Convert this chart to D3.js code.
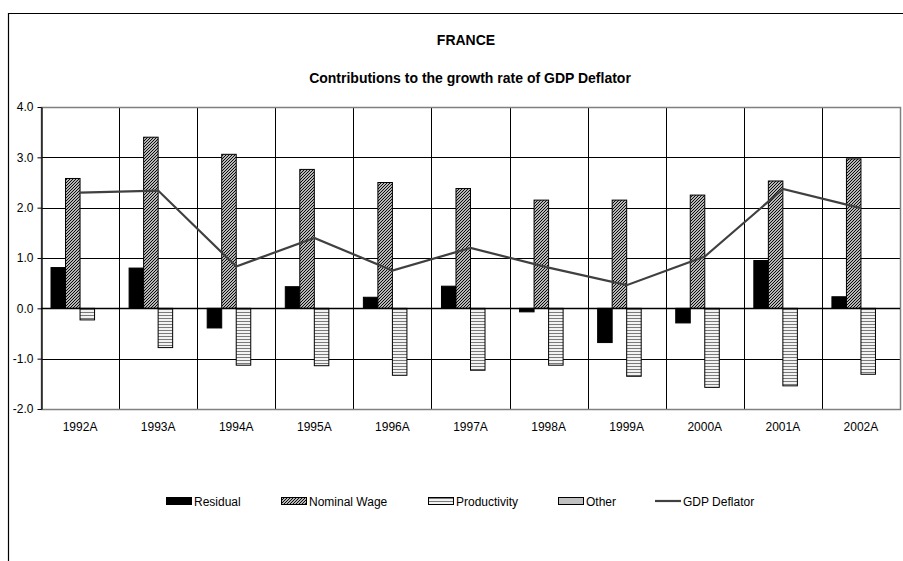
<!DOCTYPE html>
<html>
<head>
<meta charset="utf-8">
<script src="https://cdn.jsdelivr.net/npm/d3@7"></script>
<style>
  body { margin: 0; background: #fff; }
  svg text { font-family: "Liberation Sans", Arial, sans-serif; fill: #000; }
</style>
</head>
<body>
<svg id="chart" width="903" height="561"></svg>
<script>
// data
const years = ["1992A", "1993A", "1994A", "1995A", "1996A", "1997A", "1998A", "1999A", "2000A", "2001A", "2002A"];
const residual = [0.81, 0.80, -0.39, 0.43, 0.22, 0.44, -0.07, -0.68, -0.29, 0.95, 0.23];
const nominalWage = [2.58, 3.40, 3.06, 2.76, 2.50, 2.38, 2.15, 2.15, 2.25, 2.53, 2.97];
const productivity = [-0.23, -0.78, -1.13, -1.14, -1.33, -1.23, -1.13, -1.35, -1.57, -1.54, -1.31];
const other = [0, 0, 0, 0, 0, 0, 0, 0, 0, 0, 0];
const gdpDeflator = [2.30, 2.34, 0.83, 1.40, 0.75, 1.20, 0.81, 0.46, 1.03, 2.37, 1.99];
const yTicks = [-2, -1, 0, 1, 2, 3, 4];

const series = [
    { name: "Residual", values: residual, fill: "#000" },
    { name: "Nominal Wage", values: nominalWage, fill: "url(#hatch)" },
    { name: "Productivity", values: productivity, fill: "url(#stripes)" },
    { name: "Other", values: other, fill: "#c0c0c0" }
];

const svg = d3.select("#chart");
const plotL = 41, plotR = 900, plotT = 107, plotB = 409;

// patterns
const defs = svg.append("defs");
const hatch = defs.append("pattern").attr("id", "hatch").attr("patternUnits", "userSpaceOnUse")
    .attr("width", 3).attr("height", 3);
hatch.append("rect").attr("width", 3).attr("height", 3).attr("fill", "#fff");
hatch.append("path").attr("d", "M -1 1 L 1 -1 M 0 3 L 3 0 M 2 4 L 4 2")
    .attr("stroke", "#000").attr("stroke-width", 1.1);

const stripes = defs.append("pattern").attr("id", "stripes").attr("patternUnits", "userSpaceOnUse")
    .attr("width", 4).attr("height", 3);
stripes.append("rect").attr("width", 4).attr("height", 3).attr("fill", "#f2f2f2");
stripes.append("line").attr("x1", 0).attr("x2", 4).attr("y1", 0.5).attr("y2", 0.5)
    .attr("stroke", "#7a7a7a").attr("stroke-width", 1);

// outer frame (right and bottom are cut off)
svg.append("path").attr("d", "M 903 13.5 H 8.5 V 561")
    .attr("fill", "none").attr("stroke", "#000").attr("stroke-width", 1.2);

svg.append("text").attr("x", 466).attr("y", 45).attr("text-anchor", "middle")
    .style("font-size", "14px").style("font-weight", "bold").text("FRANCE");
svg.append("text").attr("x", 470).attr("y", 83).attr("text-anchor", "middle")
    .style("font-size", "14px").style("font-weight", "bold").text("Contributions to the growth rate of GDP Deflator");

const x = d3.scaleBand().domain(years).range([plotL, plotR]);
const y = d3.scaleLinear().domain([-2, 4]).range([plotB, plotT]);
const inner = d3.scaleBand().domain(series.map(d => d.name))
    .range([0, x.bandwidth()]).paddingOuter(0.69);

// grid
svg.append("g").selectAll("line").data(yTicks).enter().append("line")
    .attr("x1", plotL).attr("x2", plotR)
    .attr("y1", d => Math.round(y(d)) + 0.5).attr("y2", d => Math.round(y(d)) + 0.5)
    .attr("stroke", "#000").attr("stroke-width", 1);
svg.append("g").selectAll("line").data(years.slice(1)).enter().append("line")
    .attr("x1", d => Math.round(x(d)) + 0.5).attr("x2", d => Math.round(x(d)) + 0.5)
    .attr("y1", plotT).attr("y2", plotB)
    .attr("stroke", "#000").attr("stroke-width", 1);

// plot border
svg.append("rect").attr("x", plotL + 0.5).attr("y", Math.round(plotT) + 0.5)
    .attr("width", plotR - plotL).attr("height", Math.round(plotB) - Math.round(plotT))
    .attr("fill", "none").attr("stroke", "#808080").attr("stroke-width", 1.5);

// bars
series.forEach(s => {
    svg.append("g").selectAll("rect").data(s.values).enter().append("rect")
        .attr("x", (d, i) => x(years[i]) + inner(s.name))
        .attr("width", inner.bandwidth())
        .attr("y", d => y(Math.max(0, d)))
        .attr("height", d => Math.abs(y(d) - y(0)))
        .attr("fill", s.fill)
        .attr("stroke", d => d === 0 ? "none" : "#000")
        .attr("stroke-width", 1);
});

// axes
const yAxis = svg.append("g").attr("transform", "translate(" + (plotL + 0.5) + ",0)")
    .call(d3.axisLeft(y).tickValues(yTicks).tickFormat(d => d.toFixed(1)).tickSize(4).tickSizeOuter(0));
yAxis.select(".domain").attr("stroke", "#000").attr("stroke-width", 1.3);
yAxis.selectAll("text").style("font-size", "12px").attr("dx", "-1");

svg.append("line").attr("x1", plotL).attr("x2", plotR)
    .attr("y1", Math.round(y(0)) + 0.5).attr("y2", Math.round(y(0)) + 0.5)
    .attr("stroke", "#000").attr("stroke-width", 1.3);

svg.append("g").selectAll("text").data(years).enter().append("text")
    .attr("x", d => x(d) + x.bandwidth() / 2).attr("y", 431)
    .attr("text-anchor", "middle").style("font-size", "12px").text(d => d);

// GDP deflator line
const line = d3.line().x((d, i) => x(years[i]) + x.bandwidth() / 2).y(d => y(d));
svg.append("path").datum(gdpDeflator).attr("d", line)
    .attr("fill", "none").attr("stroke", "#404040").attr("stroke-width", 2.2);

// legend
const legendX = [166, 281, 428, 558, 655];
const legendItems = series.map(s => ({ name: s.name, fill: s.fill, type: "rect" }))
    .concat([{ name: "GDP Deflator", type: "line" }]);
const legend = svg.append("g").selectAll("g").data(legendItems).enter().append("g")
    .attr("transform", (d, i) => "translate(" + legendX[i] + ",501)");
legend.filter(d => d.type === "rect").append("rect")
    .attr("x", 0.5).attr("y", -3.5).attr("width", 25).attr("height", 7)
    .attr("fill", d => d.fill).attr("stroke", "#000");
legend.filter(d => d.type === "line").append("line")
    .attr("x1", 0).attr("x2", 26).attr("y1", 0).attr("y2", 0)
    .attr("stroke", "#404040").attr("stroke-width", 2.2);
legend.append("text").attr("x", 28).attr("y", 4.5)
    .style("font-size", "12px").text(d => d.name);
</script>
</body>
</html>
